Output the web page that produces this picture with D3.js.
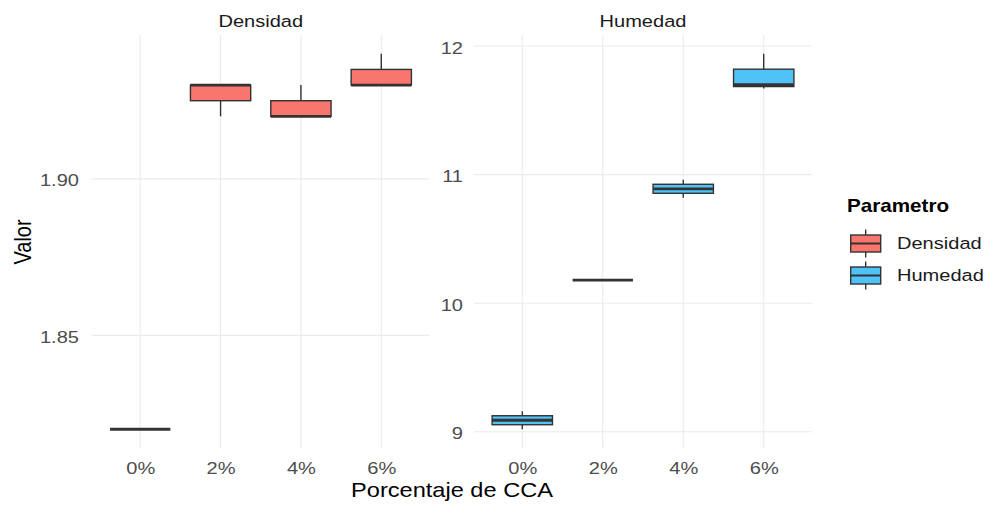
<!DOCTYPE html>
<html><head><meta charset="utf-8">
<script src="https://cdn.jsdelivr.net/npm/d3@7"></script>
<style>body{margin:0;background:#fff}svg{display:block;font-family:"Liberation Sans",Arial,sans-serif}</style>
</head><body><svg id="c" width="991" height="506"></svg>
<script>
// ---- data ----
const categories = ["0%", "2%", "4%", "6%"];
const parametros = ["Densidad", "Humedad"];
const densidadValues = [
  [1.82, 1.82, 1.82],
  [1.92, 1.93, 1.93],
  [1.92, 1.92, 1.93],
  [1.93, 1.93, 1.94]
];
const humedadValues = [
  [9.02, 9.09, 9.16],
  [10.18, 10.18, 10.18],
  [10.82, 10.89, 10.96],
  [11.67, 11.70, 11.94]
];
const densidadTicks = [1.85, 1.90];
const humedadTicks = [9, 10, 11, 12];
const colors = ["#F8766D", "#4FC3F7"];

// ---- layout ----
const SX = 1.18;
const svg = d3.select("#c");
const pTop = 35, pBottom = 448;
const panels = [
  {name: parametros[0], vals: densidadValues, ticks: densidadTicks, fmt: d3.format(".2f"), x0: 92, x1: 429.5, color: colors[0], pad: 13},
  {name: parametros[1], vals: humedadValues, ticks: humedadTicks, fmt: d3.format("d"), x0: 474, x1: 812, color: colors[1], pad: 11}
];

function stext(x, y, txt, opts) {
  return svg.append("text")
    .attr("transform", `translate(${x},${y}) scale(${SX},1)`)
    .attr("text-anchor", opts.anchor || "middle")
    .attr("dominant-baseline", "central")
    .attr("font-size", opts.size)
    .attr("font-weight", opts.weight || "normal")
    .attr("fill", opts.fill || "#000")
    .text(txt);
}

panels.forEach(p => {
  const all = p.vals.flat();
  const lo = d3.min(all), hi = d3.max(all), ex = (hi - lo) * 0.05;
  const y = d3.scaleLinear().domain([lo - ex, hi + ex]).range([pBottom, pTop]);
  const bw = (p.x1 - p.x0) / (categories.length - 1 + 1.2);
  const xc = d3.scalePoint().domain(categories).range([p.x0 + 0.6 * bw, p.x1 - 0.6 * bw]);
  const g = svg.append("g");
  // grid
  g.selectAll(".hg").data(p.ticks).join("line")
    .attr("x1", p.x0).attr("x2", p.x1)
    .attr("y1", d => y(d)).attr("y2", d => y(d))
    .attr("stroke", "#EBEBEB").attr("stroke-width", 1.1);
  g.selectAll(".vg").data(categories).join("line")
    .attr("x1", d => xc(d)).attr("x2", d => xc(d))
    .attr("y1", pTop).attr("y2", pBottom)
    .attr("stroke", "#EBEBEB").attr("stroke-width", 1.1);
  // y axis
  const ya = svg.append("g").attr("transform", `translate(${p.x0},0)`)
    .call(d3.axisLeft(y).tickValues(p.ticks).tickFormat(p.fmt).tickSize(0).tickPadding(0));
  ya.select(".domain").remove();
  ya.selectAll("text")
    .attr("x", null).attr("dy", null)
    .attr("transform", `translate(${-p.pad},1) scale(${SX},1)`)
    .attr("dominant-baseline", "central")
    .attr("font-size", 17).attr("fill", "#4D4D4D").attr("font-family", "Liberation Sans, Arial, sans-serif");
  // x axis
  const xa = svg.append("g").attr("transform", `translate(0,${pBottom})`)
    .call(d3.axisBottom(xc).tickSize(0).tickPadding(0));
  xa.select(".domain").remove();
  xa.selectAll("text")
    .attr("y", null).attr("dy", null)
    .attr("transform", `translate(0,20) scale(${SX},1)`)
    .attr("dominant-baseline", "central")
    .attr("font-size", 17).attr("fill", "#4D4D4D").attr("font-family", "Liberation Sans, Arial, sans-serif");
  // boxes
  const boxW = bw * 0.75;
  const stats = p.vals.map((v, i) => {
    const s = v.slice().sort(d3.ascending);
    return {cat: categories[i], min: s[0], q1: d3.quantile(s, 0.25), med: d3.quantile(s, 0.5), q3: d3.quantile(s, 0.75), max: s[s.length - 1]};
  });
  const bg = g.selectAll(".box").data(stats).join("g");
  bg.append("line").attr("x1", d => xc(d.cat)).attr("x2", d => xc(d.cat))
    .attr("y1", d => y(d.max)).attr("y2", d => y(d.q3)).attr("stroke", "#333").attr("stroke-width", 1.4);
  bg.append("line").attr("x1", d => xc(d.cat)).attr("x2", d => xc(d.cat))
    .attr("y1", d => y(d.q1)).attr("y2", d => y(d.min)).attr("stroke", "#333").attr("stroke-width", 1.4);
  bg.append("rect").attr("x", d => xc(d.cat) - boxW / 2).attr("width", boxW)
    .attr("y", d => y(d.q3)).attr("height", d => Math.max(0, y(d.q1) - y(d.q3)))
    .attr("fill", p.color).attr("stroke", "#333").attr("stroke-width", 1.4);
  bg.append("line").attr("x1", d => xc(d.cat) - boxW / 2).attr("x2", d => xc(d.cat) + boxW / 2)
    .attr("y1", d => y(d.med)).attr("y2", d => y(d.med)).attr("stroke", "#333").attr("stroke-width", 2.8);
  // strip
  stext((p.x0 + p.x1) / 2, 21, p.name, {size: 17, fill: "#1A1A1A"});
});

// axis titles
stext((panels[0].x0 + panels[1].x1) / 2, 490, "Porcentaje de CCA", {size: 20});
svg.append("text").attr("transform", `translate(23,242) rotate(-90) scale(1,${SX})`)
  .attr("text-anchor", "middle").attr("dominant-baseline", "central")
  .attr("font-size", 20).text("Valor");

// legend
stext(847, 206, "Parametro", {size: 17.5, weight: "bold", anchor: "start"});
parametros.forEach((nm, i) => {
  const cy = 243.5 + i * 32;
  const lg = svg.append("g");
  lg.append("line").attr("x1", 865.7).attr("x2", 865.7).attr("y1", cy - 14).attr("y2", cy + 14)
    .attr("stroke", "#333").attr("stroke-width", 1.4);
  lg.append("rect").attr("x", 850.7).attr("y", cy - 8.5).attr("width", 30).attr("height", 17)
    .attr("fill", colors[i]).attr("stroke", "#333").attr("stroke-width", 1.4);
  lg.append("line").attr("x1", 850.7).attr("x2", 880.7).attr("y1", cy).attr("y2", cy)
    .attr("stroke", "#333").attr("stroke-width", 2);
  stext(897, cy, nm, {size: 17, anchor: "start", fill: "#1A1A1A"});
});
</script></body></html>
